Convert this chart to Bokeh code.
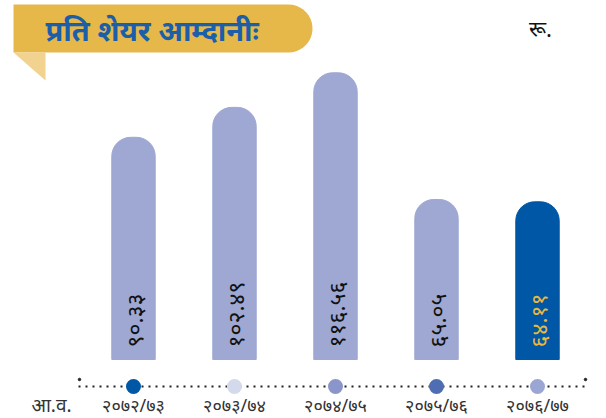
import numpy as np
from bokeh.plotting import figure
from bokeh.models import Range1d
from bokeh.core.properties import value
from bokeh.embed import file_html
from bokeh.resources import INLINE

# ---- data ----
years = ["२०७२/७३", "२०७३/७४", "२०७४/७५", "२०७५/७६", "२०७६/७७"]
eps = [90.33, 102.49, 116.56, 65.05, 64.11]
eps_labels = ["९०.३३", "१०२.४९", "११६.५६", "६५.०५", "६४.११"]
bar_colors = ["#9ea8d3", "#9ea8d3", "#9ea8d3", "#9ea8d3", "#0057a5"]
label_colors = ["#111111", "#111111", "#111111", "#111111", "#e9b83c"]
dot_colors = ["#0057a5", "#d5d9ec", "#8a96c9", "#4f6db2", "#9ba6d4"]
title = "प्रति शेयर आम्दानीः"
unit = "रू."
fy_label = "आ.व."

W, H = 606, 418
X0, XS = 133, 101.0   # px of index 0 in frame, px per index
Y0, YS = 59, 2.46     # px of zero from bottom, px per unit

def px(xp):
    return (xp - X0) / XS

def py(yp):
    return (H - yp - Y0) / YS

p = figure(width=W, height=H, output_backend="svg", toolbar_location=None,
           x_axis_location=None, y_axis_location=None, min_border=0,
           x_range=Range1d(-X0 / XS, (W - X0) / XS),
           y_range=Range1d(-Y0 / YS, (H - Y0) / YS))
p.outline_line_color = None
p.grid.visible = False
p.background_fill_color = "white"

idx = list(range(len(years)))
dev_font = value("Noto Sans")

# bars
p.vbar(x=idx, top=eps, bottom=0, width=0.43, color=bar_colors,
       border_radius=dict(top_left=19, top_right=19, bottom_left=0, bottom_right=0))

# value labels inside bars (rotated)
p.text(x=idx, y=[py(347)] * len(idx), text=eps_labels, angle=np.pi / 2,
       text_align="left", text_baseline="middle", text_font_size="23px",
       text_color=label_colors, text_font=dev_font)

# dotted axis line
ly = py(386)
p.line(x=[px(78), px(586)], y=[ly, ly], line_color="#222222", line_width=2,
       line_dash="2 5")
p.scatter(x=[px(79), px(585)], y=[py(379), py(379)], size=2.5, color="#222222")
p.scatter(x=idx, y=[ly] * len(idx), size=15, color=dot_colors, line_color=None)

# year labels
p.text(x=idx, y=[py(404)] * len(idx), text=years, text_align="center",
       text_baseline="middle", text_font_size="18px", text_color="#333333",
       text_font=dev_font)
p.text(x=[px(51)], y=[py(404)], text=[fy_label], text_align="center",
       text_baseline="middle", text_font_size="19px", text_color="#333333",
       text_font=dev_font)

# title banner
r = 24
ang = np.linspace(np.pi / 2, -np.pi / 2, 20)
bx = [13, 312 - r] + list(312 - r + r * np.cos(ang)) + [312 - r, 13]
by = [4, 4] + list(28 - r * np.sin(ang)) + [52, 52]
p.patch(x=[px(v) for v in bx], y=[py(v) for v in by], color="#e6b84a", line_color=None)
p.patch(x=[px(13), px(45), px(45)], y=[py(52), py(52), py(80)], color="#f1d28f",
        line_color=None)
p.text(x=[px(45)], y=[py(29)], text=[title], text_align="left", text_baseline="middle",
       text_font_size="29px", text_font_style="bold", text_color="#1b5ea9",
       text_font=dev_font)

# unit
p.text(x=[px(540)], y=[py(27)], text=[unit], text_align="center", text_baseline="middle",
       text_font_size="22px", text_color="#111111", text_font=dev_font)

open("out.html", "w").write(file_html(p, INLINE))
